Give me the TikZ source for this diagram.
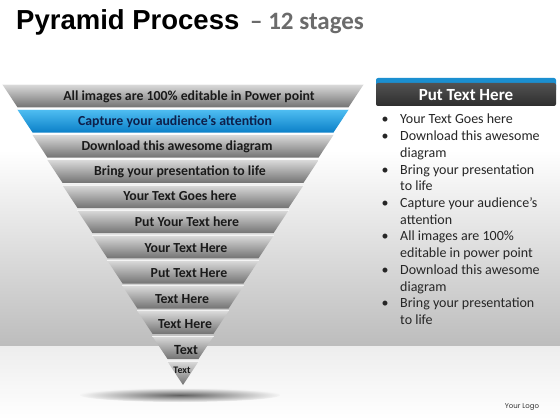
\documentclass[tikz,border=0pt]{standalone}
\usepackage{fontspec}
\setmainfont{Carlito}
\newfontfamily\arialf{Liberation Sans}
\newfontfamily\logof{Poppins}
\definecolor{bandtxt}{HTML}{1A1A1A}
\definecolor{bluetxt}{HTML}{0D1F4A}
\definecolor{subgray}{HTML}{6B6B6B}
\definecolor{hdrblue}{HTML}{1B8FD0}
\tikzset{
  grayband/.style={top color=black!14, middle color=black!30, bottom color=black!55},
  blueband/.style={top color={rgb,255:red,80;green,190;blue,242}, middle color={rgb,255:red,22;green,162;blue,234}, bottom color={rgb,255:red,11;green,128;blue,200}},
  bandlabel/.style={anchor=base, font=\bfseries\fontsize{13.8}{14}\selectfont, text=bandtxt, inner sep=0pt},
  itemtext/.style={anchor=base west, align=left, inner sep=0pt, font=\fontsize{14}{16.7}\selectfont, text=black!85},
  bulletmark/.style={anchor=base, inner sep=0pt, font=\fontsize{14}{16.7}\selectfont, text=black!85}
}
\begin{document}
\begin{tikzpicture}[x=1pt,y=-1pt]
\useasboundingbox (0,0) rectangle (560,420);
% background
\fill[white] (0,0) rectangle (560,420);
\shade[top color=white, middle color=black!8, bottom color=black!26] (0,150) rectangle (560,346);
\shade[top color=black!7, bottom color=white] (0,346) rectangle (560,420);
% shadow
\shade[inner color=black!62, outer color=black!4] (180,395) ellipse [x radius=100, y radius=7];
% title
\node[anchor=base west, inner sep=0pt, font=\arialf\bfseries\fontsize{27.5}{30}\selectfont] (title) at (16,30) {Pyramid Process};
\node[anchor=base west, inner sep=0pt, font=\bfseries\fontsize{25}{27}\selectfont, text=subgray] (subtitle) at (250,30) {– 12 stages};
% bands
\foreach \i in {0,...,11}{
  \pgfmathsetmacro{\yt}{83+\i*25.1667+1.2}
  \pgfmathsetmacro{\yb}{\i==11 ? 385 : 83+(\i+1)*25.1667-0.8}
  \pgfmathsetmacro{\wt}{(385-\yt)*0.596026+1.5}
  \pgfmathsetmacro{\wb}{(385-\yb)*0.596026}
  \ifnum\i=1
    \shade[blueband] (183-\wt,\yt) -- (183+\wt,\yt) -- (183+\wb,\yb) -- (183-\wb,\yb) -- cycle;
  \else
    \shade[grayband] (183-\wt,\yt) -- (183+\wt,\yt) -- (183+\wb,\yb) -- (183-\wb,\yb) -- cycle;
  \fi
  \draw[white, opacity=0.7, line width=0.7pt] (183-\wt,\yt) -- (183+\wt,\yt);
}
% band labels
\node[bandlabel] (t1) at (189,100.5) {All images are 100\% editable in Power point};
\node[bandlabel, text=bluetxt] (t2) at (175,125.5) {Capture your audience’s  attention};
\node[bandlabel] (t3) at (177,150) {Download this awesome diagram};
\node[bandlabel] (t4) at (180,175) {Bring your presentation to life};
\node[bandlabel] (t5) at (180,200.5) {Your Text Goes here};
\node[bandlabel] (t6) at (187,226.5) {Put Your Text here};
\node[bandlabel] (t7) at (186,252.5) {Your Text Here};
\node[bandlabel] (t8) at (189,277) {Put Text Here};
\node[bandlabel] (t9) at (182,303.5) {Text Here};
\node[bandlabel] (t10) at (185,328.5) {Text Here};
\node[bandlabel, font=\bfseries\fontsize{14}{15}\selectfont] (t11) at (186,354.5) {Text};
\node[bandlabel, font=\bfseries\fontsize{10}{11}\selectfont] (t12) at (182,373.5) {Text};
% right panel header
\fill[hdrblue, rounded corners=2pt] (376,78) rectangle (556,92);
\shade[top color=black!68, bottom color=black!82, rounded corners=2pt] (376,83) rectangle (556,106);
\node[font=\bfseries\fontsize{17}{18}\selectfont, text=white, anchor=base, inner sep=0pt] (hdr) at (466,101) {Put Text Here};
% bullet list (multi-line nodes are anchored at the baseline of their last line)
\node[bulletmark] (m1) at (385,124) {•};
\node[itemtext] (i1) at (400,124) {Your Text Goes here};
\node[bulletmark] (m2) at (385,140.7) {•};
\node[itemtext] (i2) at (400,157.4) {Download this awesome\\diagram};
\node[bulletmark] (m3) at (385,174.1) {•};
\node[itemtext] (i3) at (400,190.8) {Bring your presentation\\to life};
\node[bulletmark] (m4) at (385,207.5) {•};
\node[itemtext] (i4) at (400,224.2) {Capture your audience’s\\attention};
\node[bulletmark] (m5) at (385,240.9) {•};
\node[itemtext] (i5) at (400,257.6) {All images are 100\%\\editable in power point};
\node[bulletmark] (m6) at (385,274.3) {•};
\node[itemtext] (i6) at (400,291.0) {Download this awesome\\diagram};
\node[bulletmark] (m7) at (385,307.7) {•};
\node[itemtext] (i7) at (400,324.4) {Bring your presentation\\to life};
% logo
\node[font=\logof\fontsize{7}{8}\selectfont, text=black!80, inner sep=0pt] (logo) at (522,407) {Your Logo};
\end{tikzpicture}
\end{document}
